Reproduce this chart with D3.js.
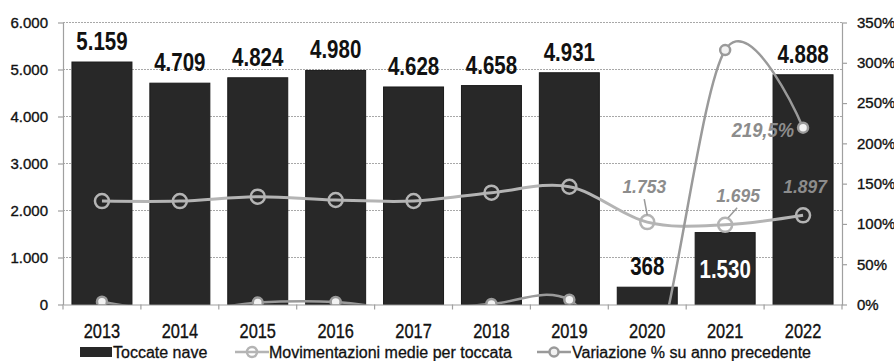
<!DOCTYPE html>
<html>
<head>
<meta charset="utf-8">
<script src="https://cdn.jsdelivr.net/npm/d3@7"></script>
<style>
  body { margin: 0; background: #fff; }
  svg { display: block; }
  .axis text { font-family: "Liberation Sans", Arial, sans-serif; fill: #111; stroke: #111; stroke-width: 0.35px; }
</style>
</head>
<body>
<script>
// data
var years = ["2013", "2014", "2015", "2016", "2017", "2018", "2019", "2020", "2021", "2022"];
var toccate = [5159, 4709, 4824, 4980, 4628, 4658, 4931, 368, 1530, 4888];
var movimentazioni = [2200, 2200, 2294, 2223, 2202, 2379, 2506, 1753, 1695, 1897];
var variazione = [3.5, -8.7, 2.4, 3.2, -7.1, 0.6, 5.9, -92.5, 315.8, 219.5];
var leftTicks = [0, 1000, 2000, 3000, 4000, 5000, 6000];
var rightTicks = [0, 50, 100, 150, 200, 250, 300, 350];
var seriesNames = ["Toccate nave", "Movimentazioni medie per toccata", "Variazione % su anno precedente"];
var insideLabels = ["2021"];
var movLabelYears = ["2020", "2021", "2022"];
var varLabelYears = ["2022"];

var regular = '"Liberation Sans", Arial, sans-serif';
var squeeze = 0.82; // no narrow font installed, so squash Liberation Sans

var margin = {top: 22.5, right: 52, bottom: 56.5, left: 63},
    width = 894 - margin.left - margin.right,
    height = 361 - margin.top - margin.bottom;

var it = d3.formatLocale({decimal: ",", thousands: ".", grouping: [3], currency: ["", "€"]});
var fmtInt = it.format(",d"),
    fmtPct = it.format(",.1f");

// scales
var x = d3.scaleBand().domain(years).range([0, width]).paddingInner(0.23).paddingOuter(0.115);
var yLeft = d3.scaleLinear().domain([0, 6000]).range([height, 0]);
var yRight = d3.scaleLinear().domain([0, 350]).range([height, 0]);
var cx = function(d, i) { return x(years[i]) + x.bandwidth() / 2; };

var svg = d3.select("body")
  .append("svg")
    .attr("width", 894)
    .attr("height", 361)
  .append("g")
    .attr("transform", "translate(" + margin.left + "," + margin.top + ")");

svg.append("clipPath")
    .attr("id", "plot-clip")
  .append("rect")
    .attr("x", 0)
    .attr("y", -1)
    .attr("width", width)
    .attr("height", height + 1);

// gridlines
svg.selectAll(".grid")
    .data(leftTicks.slice(1))
  .enter().append("line")
    .attr("class", "grid")
    .attr("x1", 0)
    .attr("x2", width)
    .attr("y1", function(d) { return yLeft(d); })
    .attr("y2", function(d) { return yLeft(d); })
    .style("stroke", "#a8a8a8")
    .style("stroke-width", 1.2)
    .style("stroke-dasharray", "2,1");

// bars
svg.selectAll(".bar")
    .data(toccate)
  .enter().append("rect")
    .attr("class", "bar")
    .attr("x", function(d, i) { return x(years[i]); })
    .attr("width", x.bandwidth())
    .attr("y", function(d) { return yLeft(d); })
    .attr("height", function(d) { return height - yLeft(d); })
    .style("fill", "#282828")
    .style("stroke", "#1a1a1a")
    .style("stroke-width", 1);

// left axis
var yAxisL = d3.axisLeft(yLeft).tickValues(leftTicks).tickFormat(fmtInt).tickSize(5).tickSizeOuter(0).tickPadding(10);
var gl = svg.append("g")
    .attr("class", "y axis")
    .call(yAxisL);
gl.selectAll("text").style("font-size", "15px");

// right axis
var yAxisR = d3.axisRight(yRight).tickValues(rightTicks).tickFormat(function(d) { return d + "%"; }).tickSize(5).tickSizeOuter(0).tickPadding(10);
var gr = svg.append("g")
    .attr("class", "y axis")
    .attr("transform", "translate(" + width + ",0)")
    .call(yAxisR);
gr.selectAll("text").style("font-size", "15px");

// bottom axis
var xAxis = d3.axisBottom(x).tickSize(0).tickPadding(19);
var gx = svg.append("g")
    .attr("class", "x axis")
    .attr("transform", "translate(0," + height + ")")
    .call(xAxis);
gx.selectAll("text")
    .style("font-size", "20px")
    .attr("transform", "scale(" + squeeze + ",1)");
gx.selectAll(".boundary")
    .data(d3.range(years.length + 1))
  .enter().append("line")
    .attr("class", "boundary")
    .attr("x1", function(d) { return d * x.step(); })
    .attr("x2", function(d) { return d * x.step(); })
    .attr("y1", 0)
    .attr("y2", 5)
    .style("stroke", "#a0a0a0");

svg.selectAll(".axis path, .axis line").style("stroke", "#a0a0a0").style("stroke-width", 1.2);

// bar labels
svg.selectAll(".bar-label")
    .data(toccate)
  .enter().append("text")
    .attr("class", "bar-label")
    .attr("transform", function(d, i) {
      var ty = insideLabels.indexOf(years[i]) >= 0 ? (yLeft(d) + height) / 2 + 9 : yLeft(d) - 12;
      return "translate(" + cx(d, i) + "," + ty + ") scale(" + squeeze + ",1)";
    })
    .style("text-anchor", "middle")
    .style("font-family", regular)
    .style("font-weight", "bold")
    .style("font-size", "25px")
    .style("fill", function(d, i) { return insideLabels.indexOf(years[i]) >= 0 ? "#fff" : "#111"; })
    .text(function(d) { return fmtInt(d); });

var curve = d3.curveCardinal.tension(0);

// movimentazioni line (left axis)
var movLine = d3.line()
    .x(cx)
    .y(function(d) { return yLeft(d); })
    .curve(curve);

svg.append("path")
    .datum(movimentazioni)
    .attr("d", movLine)
    .style("fill", "none")
    .style("stroke", "#b4b4b4")
    .style("stroke-width", 3);

svg.selectAll(".mov-dot")
    .data(movimentazioni)
  .enter().append("circle")
    .attr("class", "mov-dot")
    .attr("cx", cx)
    .attr("cy", function(d) { return yLeft(d); })
    .attr("r", 7)
    .style("fill", "none")
    .style("stroke", "#b4b4b4")
    .style("stroke-width", 2.5);

// variazione line (right axis), clipped at 0%
var varLine = d3.line()
    .x(cx)
    .y(function(d) { return yRight(d); })
    .curve(curve);

var varG = svg.append("g").attr("clip-path", "url(#plot-clip)");
varG.append("path")
    .datum(variazione)
    .attr("d", varLine)
    .style("fill", "none")
    .style("stroke", "#9a9a9a")
    .style("stroke-width", 2.5);

varG.selectAll(".var-dot")
    .data(variazione)
  .enter().append("circle")
    .attr("class", "var-dot")
    .attr("cx", cx)
    .attr("cy", function(d) { return yRight(d); })
    .attr("r", 5)
    .style("display", function(d) { return d < 0 ? "none" : null; })
    .style("fill", "#f2f2f2")
    .style("stroke", "#9a9a9a")
    .style("stroke-width", 2.5);

// line labels
var movOffsets = {"2020": [-3, -29, true], "2021": [13, -23, true], "2022": [2, -22, false]};
movLabelYears.forEach(function(yr) {
  var i = years.indexOf(yr), o = movOffsets[yr];
  var px = cx(null, i), py = yLeft(movimentazioni[i]);
  svg.append("text")
      .attr("transform", "translate(" + (px + o[0]) + "," + (py + o[1]) + ") scale(0.92,1)")
      .style("text-anchor", "middle")
      .style("font-family", regular)
      .style("font-style", "italic")
      .style("font-weight", "bold")
      .style("font-size", "19px")
      .style("fill", "#8c8c8c")
      .text(fmtInt(movimentazioni[i]));
  if (o[2]) {
    svg.append("line")
        .attr("x1", px + o[0] - (o[0] > 0 ? 1 : 0))
        .attr("y1", py + o[1] + 6)
        .attr("x2", px + (o[0] > 0 ? 3 : 0))
        .attr("y2", py - 7)
        .style("stroke", "#9a9a9a")
        .style("stroke-width", 1.5);
  }
});

varLabelYears.forEach(function(yr) {
  var i = years.indexOf(yr);
  svg.append("text")
      .attr("transform", "translate(" + (cx(null, i) - 9) + "," + (yRight(variazione[i]) + 9) + ") scale(0.92,1)")
      .style("text-anchor", "end")
      .style("font-family", regular)
      .style("font-style", "italic")
      .style("font-weight", "bold")
      .style("font-size", "20px")
      .style("fill", "#8c8c8c")
      .text(fmtPct(variazione[i]) + "%");
});

// legend
var legend = d3.select("svg").append("g")
    .attr("transform", "translate(0,352)");

legend.append("rect")
    .attr("x", 80)
    .attr("y", -5)
    .attr("width", 32)
    .attr("height", 10)
    .style("fill", "#282828");

var legendLines = [
  {x: 235, color: "#b4b4b4", fill: "none", r: 5},
  {x: 537, color: "#9a9a9a", fill: "#f2f2f2", r: 4.5}
];
legendLines.forEach(function(l) {
  legend.append("line")
      .attr("x1", l.x)
      .attr("x2", l.x + 34)
      .attr("y1", 0)
      .attr("y2", 0)
      .style("stroke", l.color)
      .style("stroke-width", 2.5);
  legend.append("circle")
      .attr("cx", l.x + 17)
      .attr("cy", 0)
      .attr("r", l.r)
      .style("fill", l.fill)
      .style("stroke", l.color)
      .style("stroke-width", 2.5);
});

var legendX = [113, 269, 572];
legend.selectAll(".legend-text")
    .data(seriesNames)
  .enter().append("text")
    .attr("class", "legend-text")
    .attr("x", function(d, i) { return legendX[i]; })
    .attr("y", 5.5)
    .style("font-family", regular)
    .style("font-size", "16px")
    .style("fill", "#111")
    .style("stroke", "#111")
    .style("stroke-width", 0.3)
    .text(function(d) { return d; });
</script>
</body>
</html>
